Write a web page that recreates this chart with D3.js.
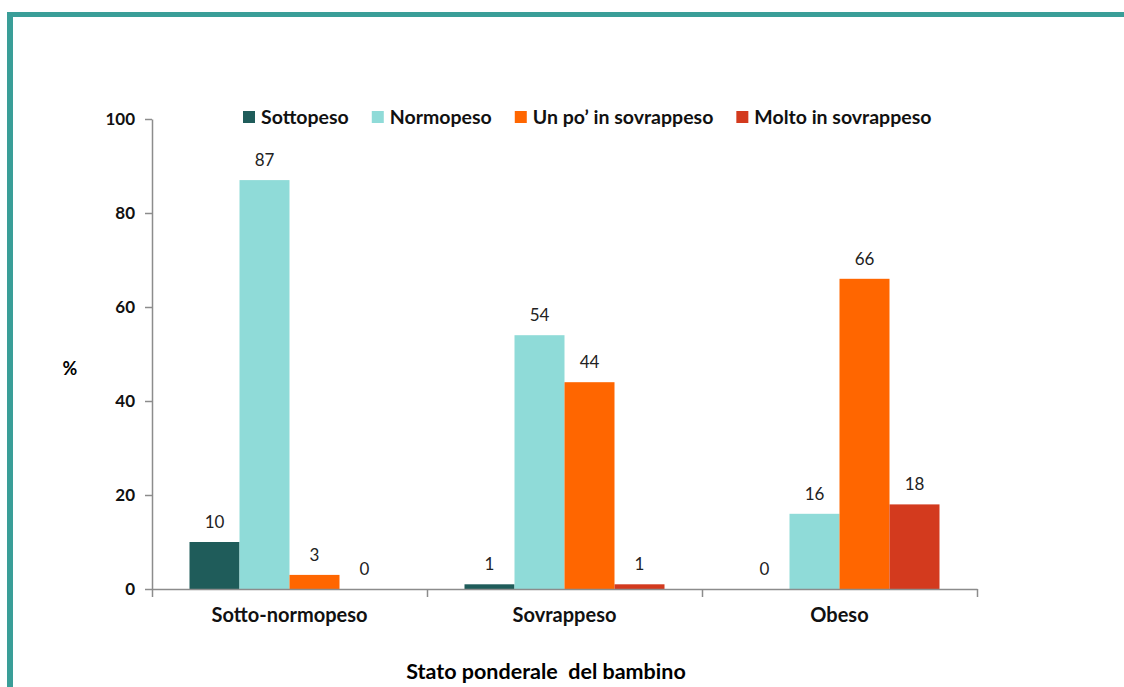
<!DOCTYPE html>
<html>
<head>
<meta charset="utf-8">
<script src="https://cdn.jsdelivr.net/npm/d3@7"></script>
<style>
  body { margin: 0; background: #fff; }
  svg { display: block; font-family: Lato, "Open Sans", sans-serif; }
</style>
</head>
<body>
<svg id="chart"></svg>
<script>
// data
var categories = ["Sotto-normopeso", "Sovrappeso", "Obeso"];
var seriesNames = ["Sottopeso", "Normopeso", "Un po\u2019 in sovrappeso", "Molto in sovrappeso"];
var seriesColors = ["#1f5c5a", "#8fdbd8", "#ff6600", "#d33a1e"];
var values = [
  [10, 87, 3, 0],
  [1, 54, 44, 1],
  [0, 16, 66, 18]
];
var yTicks = [0, 20, 40, 60, 80, 100];

var width = 1124;
var height = 687;
var plotLeft = 152, plotRight = 977, plotTop = 119, plotBottom = 589;

var svg = d3.select("#chart")
    .attr("width", width)
    .attr("height", height);

// teal frame
svg.append("rect").attr("x", 7).attr("y", 12).attr("width", width).attr("height", 5).attr("fill", "#3a9e98");
svg.append("rect").attr("x", 7).attr("y", 12).attr("width", 6).attr("height", height).attr("fill", "#3a9e98");

var x0 = d3.scaleBand().domain(categories).range([plotLeft, plotRight]).paddingInner(0).paddingOuter(0);
var x1 = d3.scaleBand().domain(d3.range(seriesNames.length))
    .range([0, x0.bandwidth()]).paddingInner(0).paddingOuter(0.75);
var y = d3.scaleLinear().domain([0, 100]).range([plotBottom, plotTop]);

// bars
var groups = svg.append("g").selectAll("g")
    .data(values)
    .join("g")
    .attr("transform", (d, i) => "translate(" + x0(categories[i]) + ",0)");

groups.selectAll("rect")
    .data(d => d)
    .join("rect")
    .attr("x", (d, j) => x1(j))
    .attr("y", d => y(d))
    .attr("width", x1.bandwidth())
    .attr("height", d => plotBottom - y(d))
    .attr("fill", (d, j) => seriesColors[j]);

groups.selectAll("text")
    .data(d => d)
    .join("text")
    .attr("x", (d, j) => x1(j) + x1.bandwidth() / 2)
    .attr("y", d => y(d) - 14)
    .attr("text-anchor", "middle")
    .style("font-size", "17px")
    .attr("fill", "#222")
    .text(d => d);

// y axis
var yAxis = svg.append("g")
    .attr("transform", "translate(" + plotLeft + ",0)")
    .call(d3.axisLeft(y).tickValues(yTicks).tickSize(7).tickPadding(10).tickSizeOuter(0))
    .attr("font-family", null);
yAxis.selectAll("path, line").attr("stroke", "#8c8c8c").attr("stroke-width", 1.5);
yAxis.selectAll("text")
    .style("font-size", "17px").style("font-weight", "bold")
    .attr("fill", "#111");

// x axis: boundary ticks
var xb = d3.scaleLinear().domain([0, categories.length]).range([plotLeft, plotRight]);
var xAxis = svg.append("g")
    .attr("transform", "translate(0," + plotBottom + ")")
    .call(d3.axisBottom(xb).tickValues(d3.range(categories.length + 1)).tickSize(8).tickFormat("").tickSizeOuter(0));
xAxis.selectAll("path, line").attr("stroke", "#8c8c8c").attr("stroke-width", 1.5);

// category labels
var xLab = svg.append("g")
    .attr("transform", "translate(0," + plotBottom + ")")
    .call(d3.axisBottom(x0).tickSize(0).tickPadding(19))
    .attr("font-family", null);
xLab.select(".domain").remove();
xLab.selectAll("text")
    .style("font-size", "20px").style("font-weight", "bold")
    .attr("fill", "#111");

// axis titles
svg.append("text")
    .attr("x", 70).attr("y", 375)
    .attr("text-anchor", "middle")
    .style("font-size", "18px").style("font-weight", "bold")
    .text("%");

svg.append("text")
    .attr("x", 546).attr("y", 679)
    .attr("text-anchor", "middle")
    .style("font-size", "21.5px").style("font-weight", "bold")
    .style("white-space", "pre")
    .text("Stato ponderale  del bambino");

// legend
var legend = svg.append("g").attr("transform", "translate(243,117)");
var lx = 0;
seriesNames.forEach(function(name, i) {
  var item = legend.append("g").attr("transform", "translate(" + lx + ",0)");
  item.append("rect")
      .attr("x", 0).attr("y", -6)
      .attr("width", 12).attr("height", 12)
      .attr("fill", seriesColors[i]);
  var t = item.append("text")
      .attr("x", 18).attr("dy", "0.35em")
      .style("font-size", "19.5px").style("font-weight", "bold")
      .attr("fill", "#111")
      .text(name);
  lx += 18 + t.node().getComputedTextLength() + 23;
});
</script>
</body>
</html>
